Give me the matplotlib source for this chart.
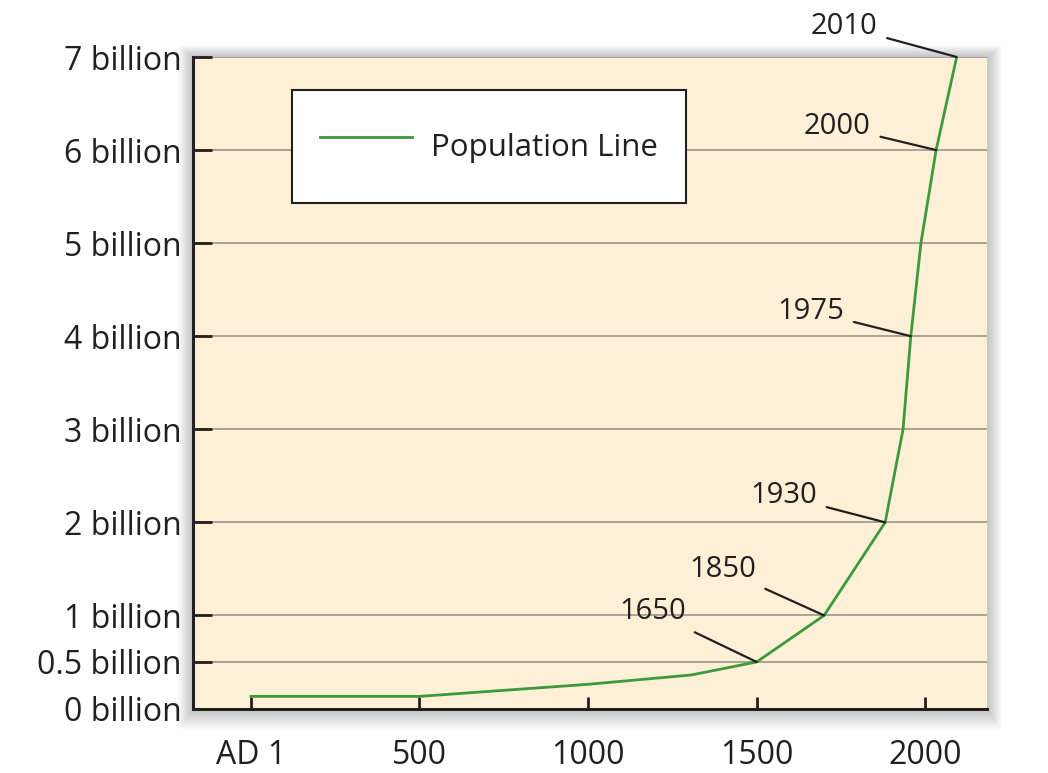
import matplotlib
matplotlib.use("Agg")
import matplotlib.pyplot as plt
from matplotlib.patches import Rectangle

plt.rcParams['font.family'] = ['Open Sans', 'DejaVu Sans']

# population line (year, billions)
years = [1, 500, 1000, 1306, 1500, 1700, 1881, 1934, 1957, 1987, 2032, 2093]
population = [0.13, 0.13, 0.26, 0.36, 0.5, 1.0, 2.0, 3.0, 4.0, 5.0, 6.0, 7.0]

x_ticks = [1, 500, 1000, 1500, 2000]
x_labels = ['AD 1', '500', '1000', '1500', '2000']
y_ticks = [0, 0.5, 1, 2, 3, 4, 5, 6, 7]
y_labels = ['0 billion', '0.5 billion', '1 billion', '2 billion', '3 billion',
            '4 billion', '5 billion', '6 billion', '7 billion']

# annotated points: label, index into the line, text offset (points)
notes = ['1650', '1850', '1930', '1975', '2000', '2010']
note_idx = [4, 5, 6, 8, 10, 11]
note_off = [(-75, 36), (-73, 33), (-73, 19), (-72, 18), (-71, 17), (-81, 22)]

text_col = '#231f20'
bg_col = '#fdf0d6'
grid_col = '#a8a397'
line_col = '#3c9a3c'

W, H = 1048, 773
fig = plt.figure(figsize=(W / 100, H / 100), dpi=100)
fig.patch.set_facecolor('white')
left, right, bottom, top = 193 / W, 986.7 / W, (H - 708.5) / H, (H - 57) / H
ax = fig.add_axes([left, bottom, right - left, top - bottom])
ax.set_facecolor(bg_col)

# soft drop shadow around the plot area
for i in range(1, 16):
    dx, dy = i / W, i / H
    fig.patches.append(Rectangle((left - dx, bottom - 1.4 * dy), right - left + 2 * dx,
                                 top - bottom + 2.2 * dy, transform=fig.transFigure,
                                 facecolor='#555555', edgecolor='none', alpha=0.025, zorder=-5))

ax.plot(years, population, color=line_col, lw=2.0, label='Population Line', zorder=3)

ax.set_xlim(-171, 2182)
ax.set_ylim(0, 7)
ax.set_xticks(x_ticks)
ax.set_xticklabels(x_labels)
ax.set_yticks(y_ticks)
ax.set_yticklabels(y_labels)
ax.grid(axis='y', color=grid_col, lw=1.4, zorder=1)
ax.set_axisbelow(True)

for s in ['top', 'right']:
    ax.spines[s].set_visible(False)
for s in ['left', 'bottom']:
    ax.spines[s].set_color(text_col)
    ax.spines[s].set_linewidth(2.2)

ax.tick_params(axis='y', direction='in', length=14, width=2, color=text_col,
               labelsize=23, labelcolor=text_col, pad=8)
ax.tick_params(axis='x', direction='in', length=8.5, width=2, color=text_col,
               labelsize=23, labelcolor=text_col, pad=22)

for lab, i, off in zip(notes, note_idx, note_off):
    ax.annotate(lab, xy=(years[i], population[i]), xytext=off, textcoords='offset points',
                ha='center', va='center', fontsize=21, color=text_col,
                arrowprops=dict(arrowstyle='-', color=text_col, lw=1.6, shrinkA=5, shrinkB=0),
                annotation_clip=False, zorder=4)

leg = ax.legend(loc='upper left', bbox_to_anchor=(0.1247, 0.9494), borderaxespad=0,
                fontsize=22.5, frameon=True, fancybox=False, handlelength=2.95,
                handletextpad=0.6, handleheight=2.4, borderpad=0.9)
leg.get_frame().set_edgecolor(text_col)
leg.get_frame().set_linewidth(1.5)
leg.get_frame().set_facecolor('white')
leg.get_frame().set_alpha(1)
for t in leg.get_texts():
    t.set_color(text_col)

fig.savefig('out.png', dpi=100)
